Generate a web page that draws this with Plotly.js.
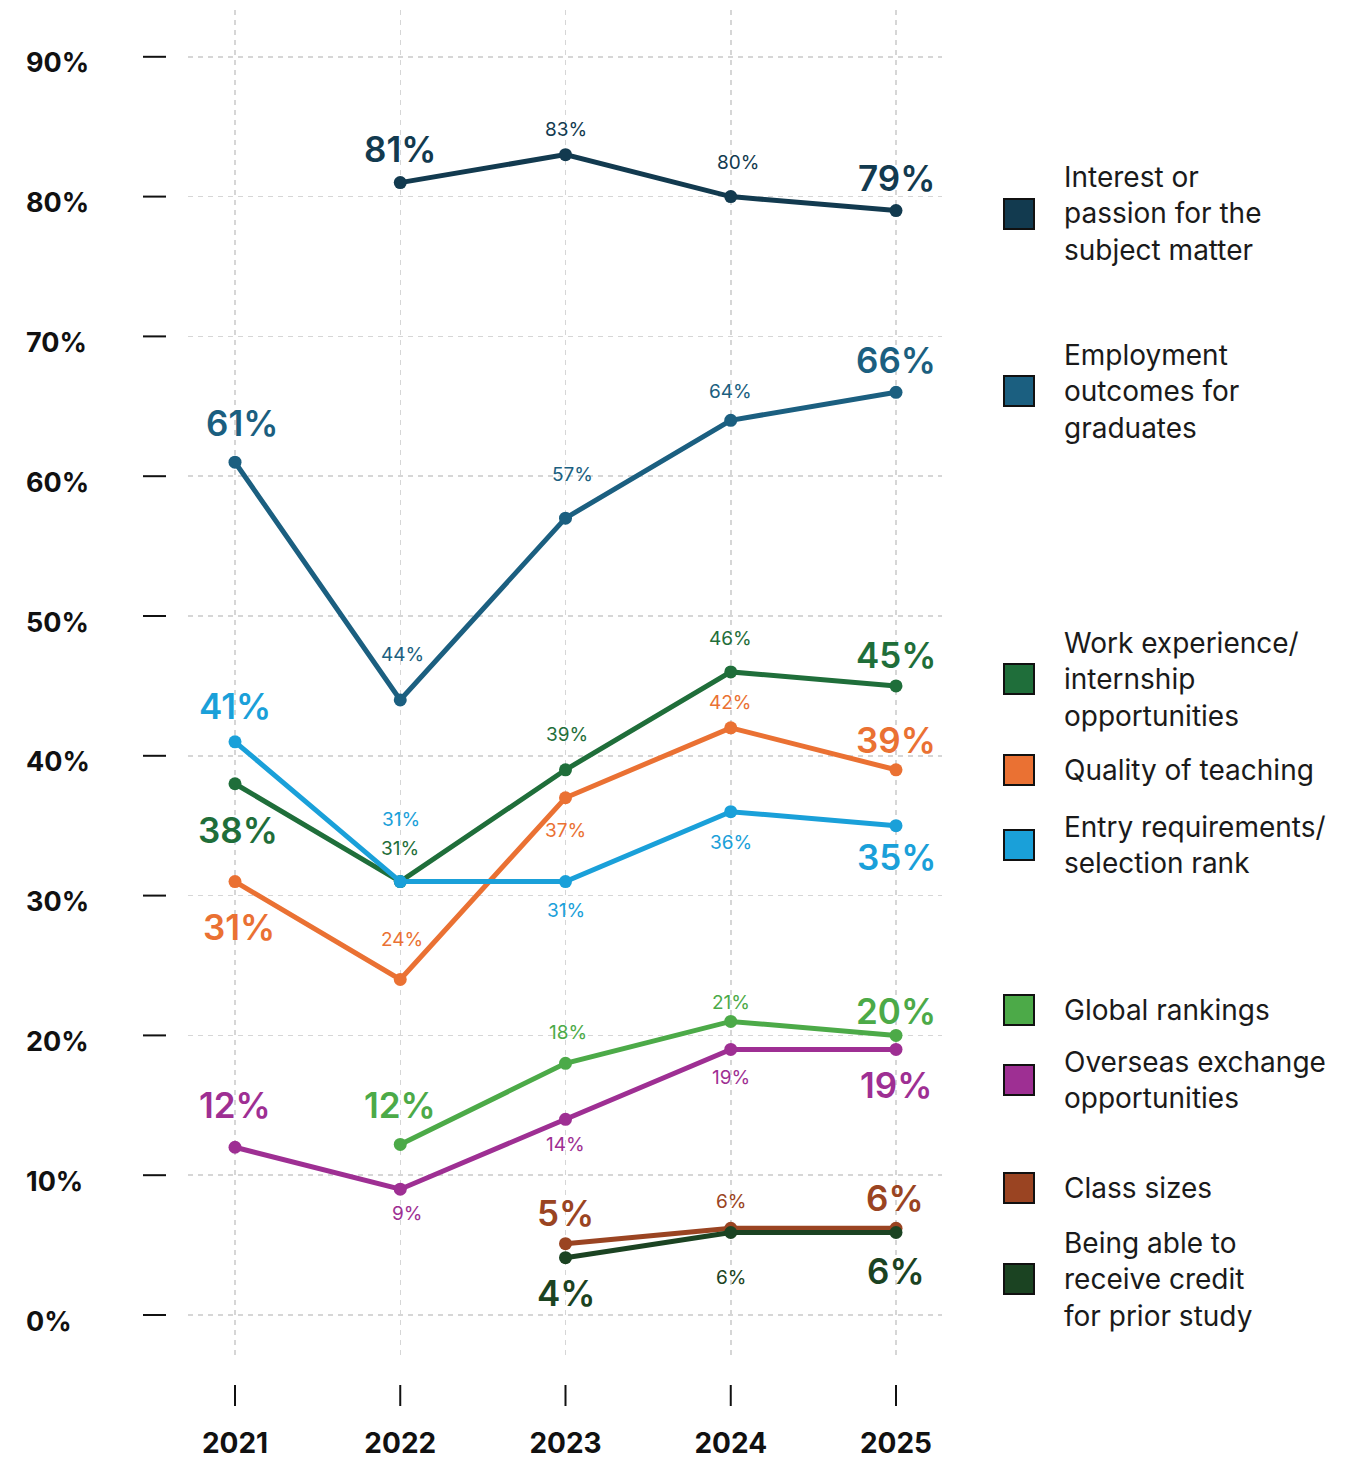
<!DOCTYPE html>
<html>
<head>
<meta charset="utf-8">
<script src="https://cdn.plot.ly/plotly-3.0.1.min.js"></script>
<style>
  html, body { margin: 0; padding: 0; background: #ffffff; }
  #chart { width: 1366px; height: 1459px; }
</style>
</head>
<body>
<div id="chart"></div>
<script>
// Years on the x axis
const years = [2021, 2022, 2023, 2024, 2025];
const yTicks = [0, 10, 20, 30, 40, 50, 60, 70, 80, 90];

// Series values (%), null where not asked that year
const interest   = [null, 81, 83, 80, 79];
const employment = [61, 44, 57, 64, 66];
const workExp    = [38, 31, 39, 46, 45];
const teaching   = [31, 24, 37, 42, 39];
const entryReq   = [41, 31, 31, 36, 35];
const rankings   = [null, 12.2, 18, 21, 20];
const overseas   = [12, 9, 14, 19, 19];
const classSizes = [null, null, 5.1, 6.2, 6.2];
const priorStudy = [null, null, 4.1, 5.9, 5.9];

const names = [
  "Interest or<br>passion for the<br>subject matter",
  "Employment<br>outcomes for<br>graduates",
  "Work experience/<br>internship<br>opportunities",
  "Quality of teaching",
  "Entry requirements/<br>selection rank",
  "Global rankings",
  "Overseas exchange<br>opportunities",
  "Class sizes",
  "Being able to<br>receive credit<br>for prior study",
];
const values = [interest, employment, workExp, teaching, entryReq, rankings, overseas, classSizes, priorStudy];
const colors = ["#123a4f", "#1b5f80", "#1f6e3a", "#ea7133", "#1aa0d9", "#4caa48", "#9e2f93", "#9a4422", "#1b4322"];

// label offsets in px (positive = above the point), per series / year
const labelDy = [
  [0, 34, 25, 34, 33],
  [39, 45, 44, 29, 32],
  [-46, 33, 35, 33, 31],
  [-45, 40, -33, 25, 30],
  [36, 62, -29, -31, -31],
  [0, 39, 31, 19, 24],
  [42, -24, -25, -28, -36],
  [0, 0, 31, 27, 30],
  [0, 0, -35, -45, -38],
];
const labelDx = [
  [0, 0, 0, 7, 0],
  [7, 2, 7, 0, 0],
  [3, 0, 1, 0, 0],
  [4, 2, 0, 0, 0],
  [0, 1, 0, 0, 0],
  [0, 0, 2, 0, 0],
  [0, 7, 0, 0, 0],
  [0, 0, 0, 0, -1],
  [0, 0, 0, 0, 0],
];
// legend rows: vertical centre in px
const legendY = [214, 391, 679, 770, 845, 1010, 1080, 1188, 1279];

const W = 1366, H = 1459;
const L = 188, R = 424, T = 10, B = 99;
const pw = W - L - R, ph = H - T - B;
const px2x = (p) => (p - L) / pw;
const py2y = (p) => (H - B - p) / ph;

const FONT = "Inter, 'Noto Sans', 'DejaVu Sans', sans-serif";

const traces = values.map((v, i) => ({
  x: years,
  y: v,
  type: "scatter",
  mode: "lines+markers",
  line: { color: colors[i], width: 5 },
  marker: { color: colors[i], size: 13 },
  connectgaps: false,
  hoverinfo: "skip",
  showlegend: false,
  cliponaxis: false,
}));

const annotations = [];
const shapes = [];

// value labels
values.forEach((v, i) => {
  const idx = v.map((d, j) => (d === null ? -1 : j)).filter((j) => j >= 0);
  const first = idx[0], last = idx[idx.length - 1];
  idx.forEach((j) => {
    const big = j === first || j === last;
    annotations.push({
      x: years[j], y: v[j], xref: "x", yref: "y",
      text: Math.round(v[j]) + "%",
      showarrow: false,
      xanchor: "center", yanchor: "middle",
      xshift: labelDx[i][j], yshift: labelDy[i][j],
      font: { family: FONT, size: big ? 35 : 19, color: colors[i], weight: big ? 600 : 400 },
    });
  });
});

// y tick labels (left aligned) and tick dashes
yTicks.forEach((t) => {
  annotations.push({
    x: px2x(24), y: t, xref: "paper", yref: "y",
    text: t + "%", showarrow: false,
    xanchor: "left", yanchor: "middle", yshift: -6,
    font: { family: FONT, size: 27, color: "#111111", weight: 700 },
  });
  shapes.push({
    type: "line", xref: "paper", yref: "y",
    x0: px2x(143), x1: px2x(166), y0: t, y1: t,
    line: { color: "#111111", width: 2 },
  });
});

// x tick dashes
years.forEach((yr) => {
  shapes.push({
    type: "line", xref: "x", yref: "paper",
    x0: yr, x1: yr, y0: py2y(1385), y1: py2y(1406),
    line: { color: "#111111", width: 2 },
  });
});

// legend
names.forEach((n, i) => {
  shapes.push({
    type: "rect", xref: "paper", yref: "paper",
    x0: px2x(1004), x1: px2x(1034),
    y0: py2y(legendY[i] + 15), y1: py2y(legendY[i] - 15),
    fillcolor: colors[i],
    line: { color: "#111111", width: 2 },
  });
  annotations.push({
    x: px2x(1062), y: py2y(legendY[i]), xref: "paper", yref: "paper",
    text: n, showarrow: false, align: "left",
    xanchor: "left", yanchor: "middle",
    font: { family: FONT, size: 28, color: "#1a1a1a" },
  });
});

const layout = {
  width: W, height: H,
  margin: { l: L, r: R, t: T, b: B, pad: 0 },
  paper_bgcolor: "#ffffff",
  plot_bgcolor: "#ffffff",
  font: { family: FONT, color: "#111111" },
  xaxis: {
    range: [2021 - 47 / 165.25, 2025 + 46 / 165.25],
    tickvals: years,
    ticktext: years.map(String),
    showgrid: true,
    gridcolor: "#d6d6d6",
    gridwidth: 1.5,
    griddash: "5px,5px",
    zeroline: false,
    showline: false,
    ticks: "",
    ticklabelstandoff: 64,
    tickfont: { family: FONT, size: 28, color: "#111111", weight: 700 },
    fixedrange: true,
  },
  yaxis: {
    range: [-(1360 - 1315) / 13.98, (1315 - 10) / 13.98],
    tickvals: yTicks,
    showticklabels: false,
    showgrid: true,
    gridcolor: "#d6d6d6",
    gridwidth: 1.5,
    griddash: "5px,5px",
    zeroline: false,
    showline: false,
    ticks: "",
    fixedrange: true,
  },
  shapes: shapes,
  annotations: annotations,
};

Plotly.newPlot("chart", traces, layout, { displayModeBar: false, staticPlot: true });
</script>
</body>
</html>
